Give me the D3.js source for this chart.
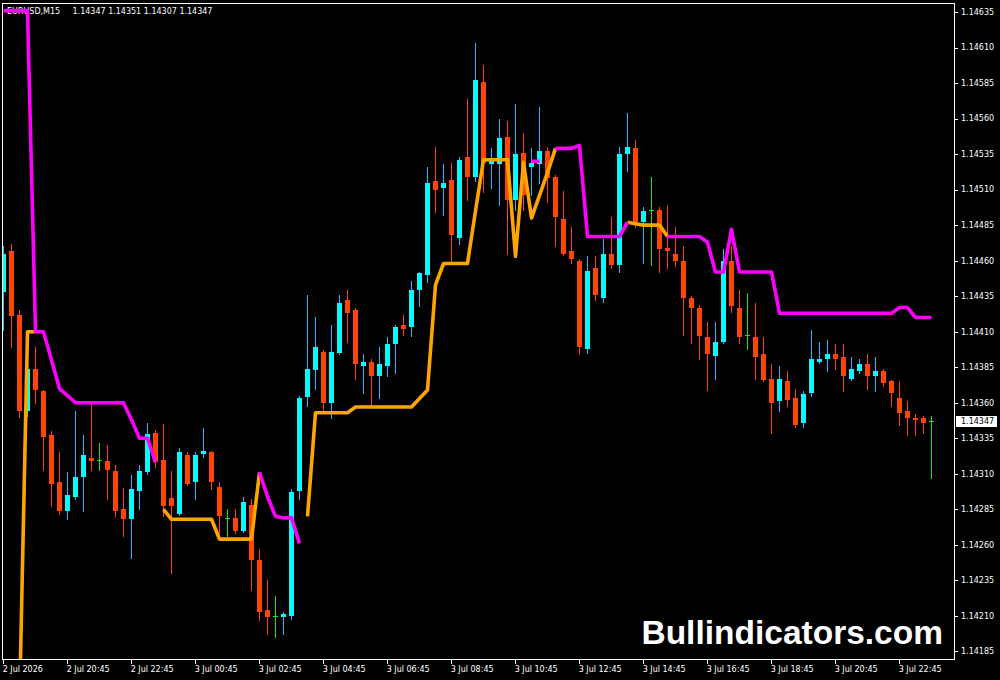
<!DOCTYPE html>
<html>
<head>
<meta charset="utf-8">
<script src="https://cdn.jsdelivr.net/npm/d3@7/dist/d3.min.js"></script>
<style>
  html, body { margin: 0; padding: 0; background: #000; }
  svg { display: block; }
</style>
</head>
<body>
<svg id="chart" width="1000" height="680"></svg>
<script>
// ---------------- DATA ----------------
const symbolTitle = "EURUSD,M15";
const titleValues = "1.14347 1.14351 1.14307 1.14347";
const lastPrice = 1.14347;

const open = [
  1.14438, 1.14467, 1.14422, 1.14354, 1.14384, 1.14368, 1.14337, 1.14304, 1.14284, 1.14294,
  1.14308, 1.14321, 1.14320, 1.14319, 1.14312, 1.14285, 1.14278, 1.14298, 1.14311, 1.14339,
  1.14320, 1.14293, 1.14282, 1.14323, 1.14304, 1.14324, 1.14325, 1.14301, 1.14279, 1.14279,
  1.14270, 1.14288, 1.14249, 1.14214, 1.14210, 1.14209, 1.14210, 1.14298, 1.14364, 1.14383,
  1.14396, 1.14360, 1.14395, 1.14432, 1.14425, 1.14386, 1.14389, 1.14379, 1.14386, 1.14401,
  1.14415, 1.14413, 1.14439, 1.14450, 1.14516, 1.14511, 1.14517, 1.14476, 1.14533, 1.14519,
  1.14586, 1.14528, 1.14528, 1.14547, 1.14503, 1.14536, 1.14526, 1.14528, 1.14537, 1.14519,
  1.14489, 1.14467, 1.14460, 1.14398, 1.14455, 1.14434, 1.14465, 1.14457, 1.14535, 1.14539,
  1.14487, 1.14496, 1.14496, 1.14469, 1.14465, 1.14460, 1.14434, 1.14427, 1.14406, 1.14393,
  1.14403, 1.14460, 1.14427, 1.14408, 1.14406, 1.14394, 1.14377, 1.14361, 1.14375, 1.14363,
  1.14346, 1.14367, 1.14389, 1.14391, 1.14394, 1.14392, 1.14377, 1.14382, 1.14387, 1.14379,
  1.14382, 1.14375, 1.14363, 1.14354, 1.14349, 1.14349, 1.14347
];
const high = [
  1.14470, 1.14472, 1.14425, 1.14390, 1.14399, 1.14369, 1.14340, 1.14325, 1.14311, 1.14354,
  1.14337, 1.14360, 1.14332, 1.14330, 1.14316, 1.14300, 1.14309, 1.14316, 1.14346, 1.14341,
  1.14345, 1.14312, 1.14328, 1.14325, 1.14325, 1.14342, 1.14326, 1.14304, 1.14285, 1.14285,
  1.14294, 1.14292, 1.14257, 1.14235, 1.14224, 1.14213, 1.14299, 1.14365, 1.14436, 1.14420,
  1.14397, 1.14415, 1.14436, 1.14439, 1.14427, 1.14394, 1.14391, 1.14399, 1.14406, 1.14415,
  1.14422, 1.14446, 1.14452, 1.14526, 1.14540, 1.14528, 1.14529, 1.14533, 1.14574, 1.14613,
  1.14598, 1.14539, 1.14560, 1.14558, 1.14570, 1.14550, 1.14539, 1.14568, 1.14540, 1.14520,
  1.14509, 1.14484, 1.14461, 1.14463, 1.14463, 1.14475, 1.14491, 1.14540, 1.14564, 1.14545,
  1.14498, 1.14519, 1.14498, 1.14499, 1.14484, 1.14470, 1.14435, 1.14429, 1.14417, 1.14417,
  1.14468, 1.14470, 1.14439, 1.14437, 1.14430, 1.14406, 1.14387, 1.14386, 1.14382, 1.14370,
  1.14368, 1.14411, 1.14403, 1.14404, 1.14401, 1.14401, 1.14392, 1.14391, 1.14394, 1.14392,
  1.14384, 1.14376, 1.14375, 1.14361, 1.14352, 1.14351, 1.14351
];
const low = [
  1.14411, 1.14399, 1.14350, 1.14351, 1.14360, 1.14313, 1.14287, 1.14282, 1.14278, 1.14292,
  1.14284, 1.14313, 1.14313, 1.14292, 1.14280, 1.14266, 1.14251, 1.14285, 1.14310, 1.14315,
  1.14280, 1.14240, 1.14281, 1.14302, 1.14292, 1.14322, 1.14299, 1.14268, 1.14266, 1.14268,
  1.14269, 1.14228, 1.14207, 1.14197, 1.14195, 1.14197, 1.14208, 1.14292, 1.14358, 1.14370,
  1.14354, 1.14349, 1.14394, 1.14403, 1.14377, 1.14367, 1.14357, 1.14363, 1.14379, 1.14381,
  1.14408, 1.14407, 1.14428, 1.14445, 1.14494, 1.14492, 1.14458, 1.14472, 1.14503, 1.14516,
  1.14508, 1.14511, 1.14499, 1.14465, 1.14496, 1.14496, 1.14506, 1.14515, 1.14501, 1.14470,
  1.14464, 1.14458, 1.14394, 1.14395, 1.14432, 1.14431, 1.14455, 1.14452, 1.14523, 1.14484,
  1.14458, 1.14457, 1.14452, 1.14455, 1.14456, 1.14408, 1.14402, 1.14391, 1.14369, 1.14377,
  1.14402, 1.14424, 1.14402, 1.14398, 1.14377, 1.14375, 1.14339, 1.14354, 1.14358, 1.14343,
  1.14343, 1.14365, 1.14388, 1.14382, 1.14384, 1.14368, 1.14376, 1.14381, 1.14370, 1.14368,
  1.14372, 1.14358, 1.14344, 1.14337, 1.14337, 1.14339, 1.14307
];
const close = [
  1.14465, 1.14421, 1.14354, 1.14384, 1.14369, 1.14336, 1.14303, 1.14284, 1.14295, 1.14308,
  1.14323, 1.14319, 1.14320, 1.14313, 1.14284, 1.14278, 1.14299, 1.14312, 1.14338, 1.14318,
  1.14287, 1.14287, 1.14325, 1.14303, 1.14323, 1.14326, 1.14304, 1.14280, 1.14279, 1.14270,
  1.14290, 1.14249, 1.14213, 1.14209, 1.14210, 1.14211, 1.14297, 1.14363, 1.14384, 1.14399,
  1.14360, 1.14396, 1.14430, 1.14423, 1.14387, 1.14389, 1.14379, 1.14387, 1.14401, 1.14413,
  1.14412, 1.14439, 1.14451, 1.14515, 1.14510, 1.14515, 1.14478, 1.14531, 1.14519, 1.14587,
  1.14529, 1.14531, 1.14546, 1.14503, 1.14535, 1.14506, 1.14529, 1.14537, 1.14518, 1.14491,
  1.14465, 1.14461, 1.14399, 1.14453, 1.14436, 1.14465, 1.14457, 1.14535, 1.14540, 1.14487,
  1.14495, 1.14496, 1.14468, 1.14467, 1.14460, 1.14434, 1.14427, 1.14407, 1.14394, 1.14403,
  1.14460, 1.14428, 1.14406, 1.14408, 1.14392, 1.14376, 1.14360, 1.14377, 1.14362, 1.14344,
  1.14366, 1.14391, 1.14391, 1.14394, 1.14391, 1.14379, 1.14384, 1.14387, 1.14379, 1.14382,
  1.14374, 1.14367, 1.14353, 1.14349, 1.14348, 1.14346, 1.14347
];

// indicator: up-trend line (orange) and down-trend line (magenta)
const upLine = [
  null, null, 1.14147, 1.14410, 1.14410, null, null, null, null, null,
  null, null, null, null, null, null, null, null, null, null,
  1.14285, 1.14278, 1.14278, 1.14278, 1.14278, 1.14278, 1.14278, 1.14264, 1.14264, 1.14264,
  1.14264, 1.14264, 1.14311, null, null, null, null, null, 1.14280, 1.14353,
  1.14353, 1.14353, 1.14353, 1.14353, 1.14357, 1.14357, 1.14357, 1.14357, 1.14357, 1.14357,
  1.14357, 1.14357, 1.14363, 1.14369, 1.14443, 1.14458, 1.14458, 1.14458, 1.14458, 1.14495,
  1.14531, 1.14531, 1.14531, 1.14531, 1.14463, 1.14529, 1.14490, 1.14506, 1.14522, 1.14539,
  null, null, null, null, null, null, null, null, 1.14487, 1.14486,
  1.14485, 1.14485, 1.14485, 1.14477, null, null, null, null, null, null,
  null, null, null, null, null, null, null, null, null, null,
  null, null, null, null, null, null, null, null, null, null,
  null, null, null, null, null, null, null
];
const dnLine = [
  1.14636, 1.14636, 1.14636, 1.14636, 1.14410, 1.14410, 1.14390, 1.14370, 1.14365, 1.14360,
  1.14360, 1.14360, 1.14360, 1.14360, 1.14360, 1.14360, 1.14348, 1.14335, 1.14335, 1.14318,
  null, null, null, null, null, null, null, null, null, null,
  null, null, 1.14311, 1.14294, 1.14280, 1.14279, 1.14279, 1.14261, null, null,
  null, null, null, null, null, null, null, null, null, null,
  null, null, null, null, null, null, null, null, null, null,
  null, null, null, null, null, null, 1.14530, 1.14530, null, 1.14539,
  1.14539, 1.14539, 1.14541, 1.14477, 1.14477, 1.14477, 1.14477, 1.14477, 1.14487, null,
  null, null, null, 1.14477, 1.14477, 1.14477, 1.14477, 1.14477, 1.14473, 1.14452,
  1.14452, 1.14482, 1.14452, 1.14452, 1.14452, 1.14452, 1.14452, 1.14423, 1.14423, 1.14423,
  1.14423, 1.14423, 1.14423, 1.14423, 1.14423, 1.14423, 1.14423, 1.14423, 1.14423, 1.14423,
  1.14423, 1.14423, 1.14427, 1.14427, 1.14420, 1.14420, 1.14420
];

const priceTicks = [
  1.14635, 1.14610, 1.14585, 1.14560, 1.14535, 1.14510, 1.14485, 1.14460, 1.14435, 1.14410,
  1.14385, 1.14360, 1.14335, 1.14310, 1.14285, 1.14260, 1.14235, 1.14210, 1.14185
];
const timeTickBars = [0, 8, 16, 24, 32, 40, 48, 56, 64, 72, 80, 88, 96, 104, 112];
const timeTickLabels = [
  "2 Jul 2026", "2 Jul 20:45", "2 Jul 22:45", "3 Jul 00:45", "3 Jul 02:45",
  "3 Jul 04:45", "3 Jul 06:45", "3 Jul 08:45", "3 Jul 10:45", "3 Jul 12:45",
  "3 Jul 14:45", "3 Jul 16:45", "3 Jul 18:45", "3 Jul 20:45", "3 Jul 22:45"
];

// ---------------- DRAWING ----------------
const svg = d3.select("#chart");
const frame = { left: 2, top: 3, right: 954, bottom: 659 };

svg.append("rect").attr("width", 1000).attr("height", 680).attr("fill", "#000");

const x = d3.scaleLinear().domain([0, open.length - 1]).range([3.5, 3.5 + 8 * (open.length - 1)]);
const y = d3.scaleLinear().domain([1.14185, 1.14635]).range([651.4, 12]);

svg.append("defs").append("clipPath").attr("id", "plotClip")
  .append("rect")
  .attr("x", frame.left + 1).attr("y", frame.top + 1)
  .attr("width", frame.right - frame.left - 1).attr("height", frame.bottom - frame.top - 1);

const font = "'DejaVu Sans', sans-serif";

// title
svg.append("text").attr("x", 7).attr("y", 13.5)
  .attr("fill", "#fff").attr("font-family", font).attr("font-size", 8)
  .text(symbolTitle);
svg.append("text").attr("x", 72.5).attr("y", 13.5)
  .attr("fill", "#fff").attr("font-family", font).attr("font-size", 8)
  .text(titleValues);

const plot = svg.append("g").attr("clip-path", "url(#plotClip)");

const bullCol = "#00ffff", bullWick = "#00c8ff", bearCol = "#ff4500", dojiCol = "#00f000";
const bars = d3.range(open.length).map(i => ({ i, o: open[i], h: high[i], l: low[i], c: close[i] }));
const colorOf = d => d.o === d.c ? dojiCol : (d.c > d.o ? bullCol : bearCol);

const cg = plot.append("g").attr("shape-rendering", "crispEdges");
// wicks
cg.selectAll("rect.wick").data(bars).join("rect").attr("class", "wick")
  .attr("x", d => x(d.i) - 0.5)
  .attr("y", d => Math.round(y(d.h)))
  .attr("width", 1)
  .attr("height", d => Math.max(1, Math.round(y(d.l)) - Math.round(y(d.h)) + 1))
  .attr("fill", d => d.o === d.c ? dojiCol : (d.c > d.o ? bullWick : bearCol));
// bodies
cg.selectAll("rect.body").data(bars).join("rect").attr("class", "body")
  .attr("x", d => x(d.i) - 2.5)
  .attr("y", d => Math.round(y(Math.max(d.o, d.c))))
  .attr("width", 5)
  .attr("height", d => Math.max(1, Math.round(y(Math.min(d.o, d.c))) - Math.round(y(Math.max(d.o, d.c)))))
  .attr("fill", colorOf);

// indicator lines
const line = d3.line().defined(d => d != null).x((d, i) => x(i)).y(d => y(d));
plot.append("path").datum(upLine).attr("d", line)
  .attr("fill", "none").attr("stroke", "#ffa500").attr("stroke-width", 3.6)
  .attr("stroke-linejoin", "round");
plot.append("path").datum(dnLine).attr("d", line)
  .attr("fill", "none").attr("stroke", "#ff00ff").attr("stroke-width", 3.6)
  .attr("stroke-linejoin", "round");

// watermark
svg.append("text").attr("x", 943).attr("y", 644).attr("text-anchor", "end")
  .attr("fill", "#fff").attr("font-family", "'Liberation Sans', Arial, sans-serif")
  .attr("font-weight", "bold").attr("font-size", 33.5)
  .text("Bullindicators.com");

// frame
svg.append("rect")
  .attr("x", frame.left + 0.5).attr("y", frame.top + 0.5)
  .attr("width", frame.right - frame.left).attr("height", frame.bottom - frame.top)
  .attr("fill", "none").attr("stroke", "#fff").attr("stroke-width", 1)
  .attr("shape-rendering", "crispEdges");

// price axis
const pa = svg.append("g");
pa.selectAll("line").data(priceTicks).join("line")
  .attr("x1", frame.right + 1).attr("x2", frame.right + 4)
  .attr("y1", d => Math.round(y(d)) + 0.5).attr("y2", d => Math.round(y(d)) + 0.5)
  .attr("stroke", "#fff").attr("shape-rendering", "crispEdges");
pa.selectAll("text").data(priceTicks).join("text")
  .attr("x", 961).attr("y", d => y(d)).attr("dy", "0.36em")
  .attr("fill", "#fff").attr("font-family", font).attr("font-size", 8)
  .text(d => d.toFixed(5));

// last price box
const ly = y(lastPrice);
svg.append("rect").attr("x", 956).attr("y", Math.round(ly) - 5).attr("width", 41).attr("height", 11)
  .attr("fill", "#fff").attr("shape-rendering", "crispEdges");
svg.append("text").attr("x", 961).attr("y", ly).attr("dy", "0.38em")
  .attr("fill", "#000").attr("font-family", font).attr("font-size", 8)
  .text(lastPrice.toFixed(5));

// time axis
const ta = svg.append("g");
ta.selectAll("line").data(timeTickBars).join("line")
  .attr("x1", d => x(d)).attr("x2", d => x(d))
  .attr("y1", frame.bottom + 1).attr("y2", frame.bottom + 5)
  .attr("stroke", "#fff").attr("shape-rendering", "crispEdges");
ta.selectAll("text").data(timeTickBars).join("text")
  .attr("x", d => x(d) - 0.8).attr("y", 671.5)
  .attr("fill", "#fff").attr("font-family", font).attr("font-size", 8)
  .text((d, k) => timeTickLabels[k]);
</script>
</body>
</html>
